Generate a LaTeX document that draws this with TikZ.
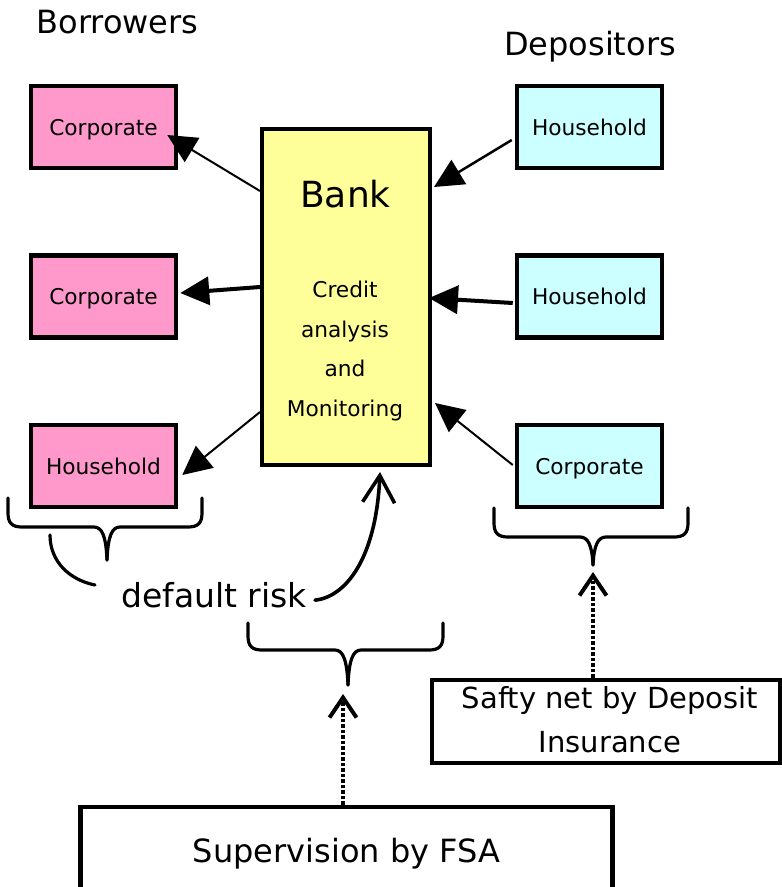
\documentclass[tikz,border=0pt]{standalone}
\usepackage{fontspec}
\setmainfont{DejaVu Sans}
\usetikzlibrary{arrows.meta}
\definecolor{pinkbox}{HTML}{FF99CC}
\definecolor{cyanbox}{HTML}{CCFFFF}
\definecolor{yellowbox}{HTML}{FFFF99}
\begin{document}
\begin{tikzpicture}[x=1pt,y=-1pt,
  party/.style={draw, line width=4.5pt, minimum width=145pt, minimum height=82pt,
    inner sep=0pt, font=\fontsize{21.7}{24}\selectfont, text height=16pt, text depth=0pt},
  borrower/.style={party, fill=pinkbox},
  depositor/.style={party, fill=cyanbox},
  flow/.style={-{Triangle[length=29pt,width=28pt]}},
  thinflow/.style={flow, line width=2pt},
  thickflow/.style={flow, line width=4pt},
  bracepath/.style={line width=3.2pt, line cap=round, line join=round},
  dotarrow/.style={line width=4.5pt, dash pattern=on 3.5pt off 2pt,
    -{Straight Barb[length=20pt,width=27pt,line width=4pt]}},
  heading/.style={font=\fontsize{32}{36}\selectfont, inner sep=0pt, anchor=base},
  plainbox/.style={draw, line width=4.5pt, inner sep=0pt},
  ]
\useasboundingbox (0,0) rectangle (782,887);

% headings
\node[heading] (borrowers) at (117.5,33) {Borrowers};
\node[heading] (depositors) at (590,55) {Depositors};

% parties
\node[borrower] (b1) at (103.5,127) {Corporate};
\node[borrower] (b2) at (103.5,296.5) {Corporate};
\node[borrower] (b3) at (103.5,466) {Household};
\node[depositor] (d1) at (589.5,127) {Household};
\node[depositor] (d2) at (589.5,296.5) {Household};
\node[depositor] (d3) at (589.5,466) {Corporate};

% bank
\node[draw, line width=4pt, fill=yellowbox, minimum width=168pt, minimum height=336pt, inner sep=0pt] (bank) at (346,297) {};
\node[font=\fontsize{36}{40}\selectfont, inner sep=0pt, anchor=base] (banktitle) at (345.5,207) {Bank};
\node[font=\fontsize{21.7}{39.7}\selectfont, align=center, inner sep=0pt] (credit) at (345,351) {Credit\\analysis\\and\\Monitoring};

% flows
\draw[thinflow] ([yshift=106pt]bank.west) -- ([xshift=-11pt,yshift=-8pt]b1.east);
\draw[thickflow] ([yshift=10pt]bank.west) -- ([xshift=2pt,yshift=3.5pt]b2.east);
\draw[thinflow] ([yshift=-115pt]bank.west) -- ([xshift=4pt,yshift=-9pt]b3.east);
\draw[thinflow, line width=2.5pt] ([xshift=-3pt,yshift=-13pt]d1.west) -- ([xshift=2pt,yshift=110pt]bank.east);
\draw[thickflow] ([xshift=-2pt,yshift=-6.5pt]d2.west) -- ([xshift=-3pt,yshift=-1pt]bank.east);
\draw[thinflow] ([xshift=-2pt,yshift=1pt]d3.west) -- ([xshift=3pt,yshift=-106pt]bank.east);

% braces
\draw[bracepath] (8,498) -- (8,513) .. controls (8,523) and (12,527) .. (22,527) -- (94,527)
  .. controls (102,527) and (106,536) .. (107,560);
\draw[bracepath] (202,498) -- (202,513) .. controls (202,523) and (198,527) .. (188,527) -- (120,527)
  .. controls (112,527) and (108,536) .. (107,560);
\draw[bracepath] (494,508) -- (494,523) .. controls (494,533) and (498,537) .. (508,537) -- (580,537)
  .. controls (588,537) and (592,545) .. (593,565);
\draw[bracepath] (688,508) -- (688,523) .. controls (688,533) and (684,537) .. (674,537) -- (606,537)
  .. controls (598,537) and (594,545) .. (593,565);
\draw[bracepath] (248,623) -- (248,636) .. controls (248,646) and (252,650) .. (262,650) -- (335,650)
  .. controls (343,650) and (347,660) .. (348,685);
\draw[bracepath] (443,623) -- (443,636) .. controls (443,646) and (439,650) .. (429,650) -- (361,650)
  .. controls (353,650) and (349,660) .. (348,685);

% default risk
\node[font=\fontsize{33}{36}\selectfont, inner sep=0pt, anchor=base] (risk) at (214,607) {default risk};
\draw[bracepath] (50,535) .. controls (50,562) and (70,580) .. (95,585);
\draw[bracepath, line width=3.6pt, -{Straight Barb[length=27pt,width=32pt,line width=3.6pt]}]
  ([xshift=8pt,yshift=-5.5pt]risk.east) .. controls (345,597) and (376,560) .. ([xshift=34pt,yshift=-5pt]bank.south);

% safety net
\node[plainbox, minimum width=348pt, minimum height=83pt] (safe) at (606,721.5) {};
\node[align=center, inner sep=0pt, font=\fontsize{29}{44}\selectfont] (safetext) at (610,720) {Safty net by Deposit\\Insurance};
\coordinate (rtip) at (593,572);
\draw[dotarrow] ([xshift=-13pt]safe.north) -- (rtip);

% supervision
\node[plainbox, minimum width=532pt, minimum height=88pt, font=\fontsize{32}{36}\selectfont,
  text height=23pt, text depth=0pt] (sup) at (346.5,851) {Supervision by FSA};
\coordinate (mtip) at (343,694);
\draw[dotarrow] ([xshift=-3.5pt]sup.north) -- (mtip);
\end{tikzpicture}
\end{document}
